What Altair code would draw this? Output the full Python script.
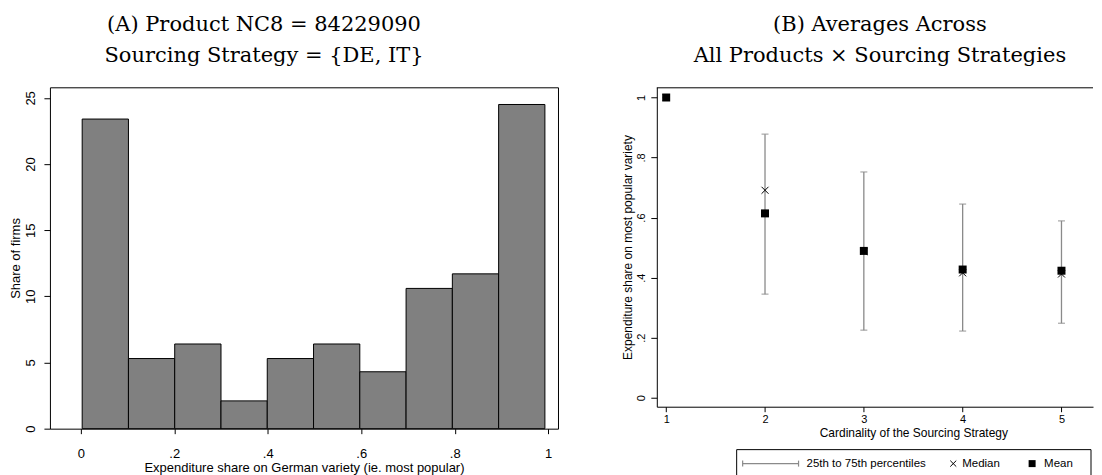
import altair as alt
import pandas as pd

# ---------------- Panel A data ----------------
bin_edges = [0.003, 0.102, 0.201, 0.300, 0.399, 0.498, 0.597, 0.696, 0.795, 0.894, 0.993]
firm_shares = [23.4, 5.3, 6.4, 2.1, 5.3, 6.4, 4.3, 10.6, 11.7, 24.5]

# ---------------- Panel B data ----------------
cardinality = [1, 2, 3, 4, 5]
p25 = [1.0, 0.345, 0.225, 0.222, 0.248]
p75 = [1.0, 0.878, 0.752, 0.645, 0.589]
median = [1.0, 0.691, 0.487, 0.416, 0.412]
mean = [1.0, 0.614, 0.489, 0.427, 0.423]

legend_labels = ["25th to 75th percentiles", "Median", "Mean"]

title_a = ["(A) Product NC8 = 84229090", "Sourcing Strategy = {DE, IT}"]
title_b = ["(B) Averages Across", "All Products \u00d7 Sourcing Strategies"]

SANS = "Liberation Sans"
SERIF = "DejaVu Serif"
XPATH = "M-1,-1L1,1M-1,1L1,-1"
ERR_COLOR = "#8a8a8a"

hist_df = pd.DataFrame({
    "lo": bin_edges[:-1],
    "hi": bin_edges[1:],
    "share": firm_shares,
})

WA, HA = 509, 342
WB, HB = 437, 320
XA_DOM = [-0.066, 1.021]
YA_DOM = [0, 25.8]
XB_DOM = [0.905, 5.319]
YB_DOM = [-0.03, 1.034]

DEC_EXPR = "datum.value == 0 ? '0' : datum.value == 1 ? '1' : replace(format(datum.value, '.1f'), '0.', '.')"


def title(text, dx):
    return alt.TitleParams(text=text, font=SERIF, fontSize=21, fontWeight="normal",
                           lineHeight=31, color="black", anchor="middle", dx=dx, offset=21)


def axis(**kw):
    base = dict(labelFont=SANS, titleFont=SANS, titleFontWeight="normal",
                domain=False, tickColor="black", labelColor="black",
                titleColor="black", grid=False)
    base.update(kw)
    return alt.Axis(**base)


xa_scale = alt.Scale(domain=XA_DOM, nice=False, zero=False)
ya_scale = alt.Scale(domain=YA_DOM, nice=False, zero=False)

bars = alt.Chart(hist_df).mark_rect(fill="#808080", stroke="black", strokeWidth=1).encode(
    x=alt.X("lo:Q", scale=xa_scale,
            axis=axis(values=[0, 0.2, 0.4, 0.6, 0.8, 1.0], labelExpr=DEC_EXPR,
                      title="Expenditure share on German variety (ie. most popular)",
                      labelFontSize=13, titleFontSize=13, tickSize=5,
                      labelPadding=14, titleY=33, titleBaseline="top")),
    x2="hi:Q",
    y=alt.Y("share:Q", scale=ya_scale,
            axis=axis(values=[0, 5, 10, 15, 20, 25], title="Share of firms",
                      labelAngle=270, labelAlign="center", labelBaseline="bottom",
                      labelFontSize=13, titleFontSize=13, tickSize=6,
                      labelPadding=6, titlePadding=2)),
    y2=alt.datum(0),
)

panel_a = bars.properties(
    width=WA, height=HA, title=title(title_a, -40),
    view=alt.ViewBackground(stroke="black", strokeWidth=1),
)

# ---------------- Panel B ----------------
b_df = pd.DataFrame({"card": cardinality, "p25": p25, "p75": p75, "median": median, "mean": mean})
xb_scale = alt.Scale(domain=XB_DOM, nice=False, zero=False)
yb_scale = alt.Scale(domain=YB_DOM, nice=False, zero=False)

xb_axis = axis(values=[1, 2, 3, 4, 5], format="d", title="Cardinality of the Sourcing Strategy",
               labelFontSize=11, titleFontSize=12, tickSize=5, labelPadding=2, titlePadding=3,
               titleX=257, titleAlign="center",
               domain=True, domainColor="black", domainWidth=1)
yb_axis = axis(values=[0, 0.2, 0.4, 0.6, 0.8, 1.0], labelExpr=DEC_EXPR,
               title="Expenditure share on most popular variety",
               labelAngle=270, labelAlign="center", labelBaseline="bottom",
               labelFontSize=11, titleFontSize=12, tickSize=6, labelPadding=4, titlePadding=1,
               domain=True, domainColor="black", domainWidth=1)

base_b = alt.Chart(b_df)
errb = base_b.mark_errorbar(color=ERR_COLOR, thickness=1.3, ticks={"size": 7}).encode(
    x=alt.X("card:Q", scale=xb_scale, axis=xb_axis),
    y=alt.Y("p25:Q", scale=yb_scale, axis=yb_axis),
    y2="p75:Q",
)
med = base_b.mark_point(shape=XPATH, size=49, color="black", strokeWidth=1, filled=False, opacity=1).encode(
    x=alt.X("card:Q", scale=xb_scale),
    y=alt.Y("median:Q", scale=yb_scale),
)
mn = base_b.mark_square(size=64, color="black", opacity=1).encode(
    x=alt.X("card:Q", scale=xb_scale),
    y=alt.Y("mean:Q", scale=yb_scale),
)

one = alt.Chart(pd.DataFrame({"a": [0]}))

# top frame line of panel B (its right edge is cropped off in the original)
top_b = one.mark_rule(color="black", strokeWidth=1).encode(
    x=alt.value(0), x2=alt.value(WB), y=alt.value(0.5))

# legend (drawn below the panel)
LY = 377
leg = [
    one.mark_rect(fill="white", stroke="black", strokeWidth=1).encode(
        x=alt.value(80), x2=alt.value(435), y=alt.value(LY - 14), y2=alt.value(LY + 26)),
    one.mark_rule(color=ERR_COLOR, strokeWidth=1.2).encode(
        x=alt.value(86), x2=alt.value(142), y=alt.value(LY)),
    one.mark_rule(color=ERR_COLOR, strokeWidth=1.2).encode(
        x=alt.value(86), y=alt.value(LY - 3), y2=alt.value(LY + 3)),
    one.mark_rule(color=ERR_COLOR, strokeWidth=1.2).encode(
        x=alt.value(142), y=alt.value(LY - 3), y2=alt.value(LY + 3)),
    one.mark_text(align="left", baseline="middle", font=SANS, fontSize=11.5, color="black").encode(
        x=alt.value(150), y=alt.value(LY), text=alt.value(legend_labels[0])),
    one.mark_point(shape=XPATH, size=36, color="black", strokeWidth=1, filled=False, opacity=1).encode(
        x=alt.value(297), y=alt.value(LY)),
    one.mark_text(align="left", baseline="middle", font=SANS, fontSize=11.5, color="black").encode(
        x=alt.value(306), y=alt.value(LY), text=alt.value(legend_labels[1])),
    one.mark_square(size=49, color="black", opacity=1).encode(
        x=alt.value(376), y=alt.value(LY)),
    one.mark_text(align="left", baseline="middle", font=SANS, fontSize=11.5, color="black").encode(
        x=alt.value(388), y=alt.value(LY), text=alt.value(legend_labels[2])),
]

panel_b = alt.layer(errb, med, mn, top_b, *leg).properties(
    width=WB, height=HB, title=title(title_b, 5),
    view=alt.ViewBackground(stroke=None),
)

chart = alt.hconcat(panel_a, panel_b, spacing=63).properties(
    padding={"left": 1, "top": 5, "right": 0, "bottom": 0},
    background="white",
).configure_view(stroke=None)

chart.save("out.html", embed_options={"renderer": "svg", "actions": False})
